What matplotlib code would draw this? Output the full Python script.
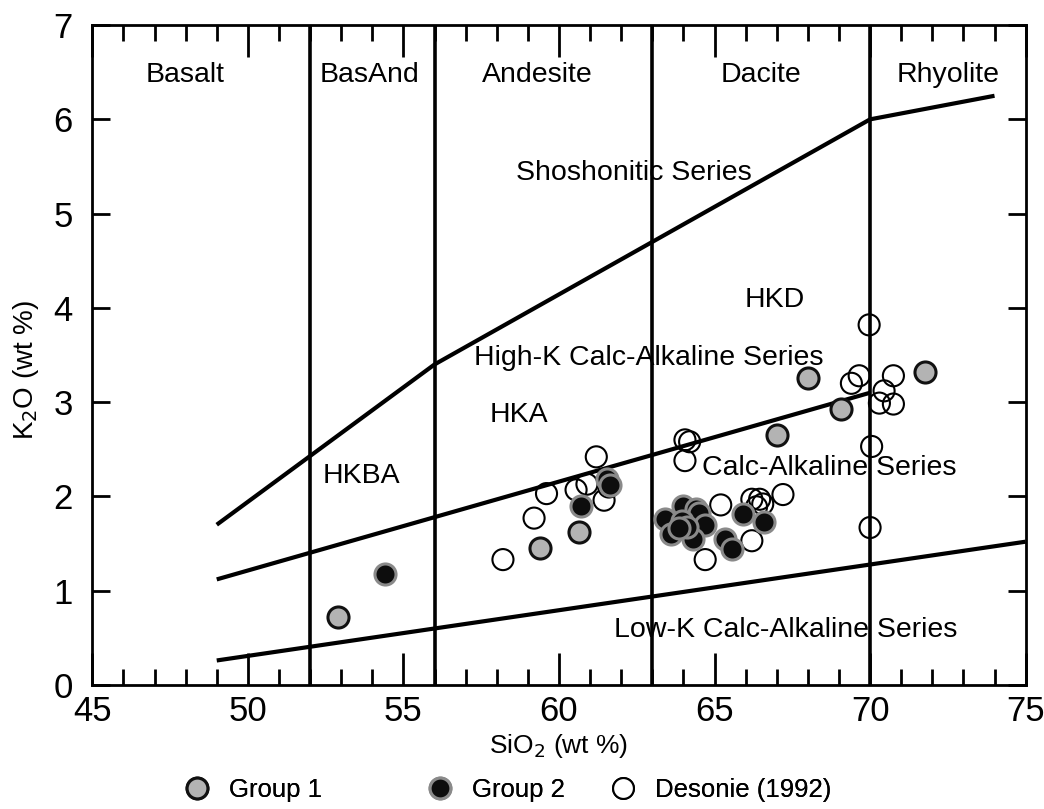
import matplotlib
matplotlib.use("Agg")
import matplotlib.pyplot as plt
from matplotlib.lines import Line2D

plt.rcParams['font.family'] = ['Liberation Sans', 'DejaVu Sans']

# ---- data ----
group1_x = [52.9, 59.4, 60.65, 67.0, 68.0, 69.05, 71.75]
group1_y = [0.72, 1.45, 1.62, 2.65, 3.26, 2.93, 3.32]

group2_x = [54.4, 60.7, 61.55, 61.65, 63.4, 64.0, 64.4, 64.5, 64.7, 63.95, 63.6, 64.3,
            65.35, 65.55, 65.9, 66.6, 64.1, 63.85]
group2_y = [1.18, 1.9, 2.18, 2.12, 1.76, 1.9, 1.87, 1.82, 1.7, 1.74, 1.6, 1.55,
            1.55, 1.44, 1.81, 1.73, 1.68, 1.66]

desonie_x = [58.2, 59.2, 59.6, 60.55, 60.9, 61.45, 61.2, 64.05, 64.2, 64.05, 65.2,
             66.2, 66.45, 66.55, 66.35, 67.2, 66.2, 64.7, 69.97, 69.65, 69.4, 70.75,
             70.45, 70.3, 70.75, 70.05, 70.0, 61.6]
desonie_y = [1.33, 1.77, 2.03, 2.07, 2.13, 1.96, 2.42, 2.6, 2.58, 2.38, 1.91,
             1.97, 1.97, 1.92, 1.89, 2.02, 1.53, 1.33, 3.82, 3.28, 3.2, 3.28,
             3.12, 2.99, 2.98, 2.53, 1.67, 2.1]

# field boundaries (Gill 1981 style)
vert_x = [52, 56, 63, 70]
shosh_x = [49, 56, 70, 74]
shosh_y = [1.7, 3.4, 6.0, 6.25]
hk_x = [49, 70]
hk_y = [1.12, 3.1]
lk_x = [49, 75]
lk_y = [0.26, 1.52]

rock_names = ["Basalt", "BasAnd", "Andesite", "Dacite", "Rhyolite"]
rock_x = [48.0, 53.9, 59.3, 66.5, 72.5]

series_labels = ["Shoshonitic Series", "HKD", "High-K Calc-Alkaline Series", "HKA",
                 "HKBA", "Calc-Alkaline Series", "Low-K Calc-Alkaline Series"]
series_x = [62.4, 66.95, 62.9, 58.7, 53.65, 68.7, 67.3]
series_y = [5.43, 4.08, 3.47, 2.86, 2.22, 2.3, 0.58]

legend_labels = ['Group 1', 'Group 2', 'Desonie (1992)']

# ---- figure ----
W, H = 1044, 809
fig = plt.figure(figsize=(W / 100, H / 100), dpi=100)
ax = fig.add_axes([0.0884, 0.1533, 0.8940, 0.8157])
ax.set_xlim(45, 75)
ax.set_ylim(0, 7)

for vx in vert_x:
    ax.axvline(vx, color='black', lw=2.6, zorder=2)
ax.plot(shosh_x, shosh_y, color='black', lw=3, zorder=2, solid_capstyle='butt')
ax.plot(hk_x, hk_y, color='black', lw=3, zorder=2, solid_capstyle='butt')
ax.plot(lk_x, lk_y, color='black', lw=3, zorder=2, solid_capstyle='butt')

MS = 230
ax.scatter(desonie_x, desonie_y, s=MS, facecolors='none', edgecolors='black',
           linewidths=1.5, zorder=3)
ax.scatter(group1_x, group1_y, s=MS, facecolors='#b3b3b3', edgecolors='#111111',
           linewidths=2.2, zorder=4)
ax.scatter(group2_x, group2_y, s=MS, facecolors='#0d0d0d', edgecolors='#8a8a8a',
           linewidths=2.2, zorder=4)

for name, x in zip(rock_names, rock_x):
    ax.text(x, 6.47, name, ha='center', va='center', fontsize=20.5, zorder=5)
for name, x, y in zip(series_labels, series_x, series_y):
    ax.text(x, y, name, ha='center', va='center', fontsize=20.5, zorder=5)

ax.set_xticks(range(45, 76, 5))
ax.set_xticks(range(45, 76, 1), minor=True)
ax.set_yticks(range(0, 8))
ax.tick_params(axis='x', which='major', direction='in', top=True, bottom=True,
               length=23, width=2, labelsize=25, pad=7)
ax.tick_params(axis='x', which='minor', direction='in', top=True, bottom=True,
               length=11.5, width=2)
ax.tick_params(axis='y', which='major', direction='in', left=True, right=True,
               length=13, width=2, labelsize=25, pad=14)
for sp in ax.spines.values():
    sp.set_linewidth(2)

ax.set_xlabel('SiO$_2$ (wt %)', fontsize=19, labelpad=3)
ax.set_ylabel('K$_2$O (wt %)', fontsize=20)
ax.yaxis.set_label_coords(-0.055, 0.477)

handles = [
    Line2D([], [], ls='none', marker='o', markersize=15, markerfacecolor='#b3b3b3',
           markeredgecolor='#111111', markeredgewidth=2.2),
    Line2D([], [], ls='none', marker='o', markersize=15, markerfacecolor='#0d0d0d',
           markeredgecolor='#8a8a8a', markeredgewidth=2.2),
    Line2D([], [], ls='none', marker='o', markersize=15, markerfacecolor='white',
           markeredgecolor='black', markeredgewidth=1.5),
]
marker_px = [197, 440, 623]
leg_fs = 18.5
em_px = leg_fs * 100 / 72
for h, lab, mx in zip(handles, legend_labels, marker_px):
    x0 = (mx - 0.5 * em_px) / W
    lg = fig.legend([h], [lab], loc='center left', bbox_to_anchor=(x0, 1 - 790 / H),
                    frameon=False, fontsize=leg_fs, handlelength=1.0,
                    handletextpad=0.75, borderpad=0, borderaxespad=0)
    fig.add_artist(lg)

fig.savefig('out.png', dpi=100)
